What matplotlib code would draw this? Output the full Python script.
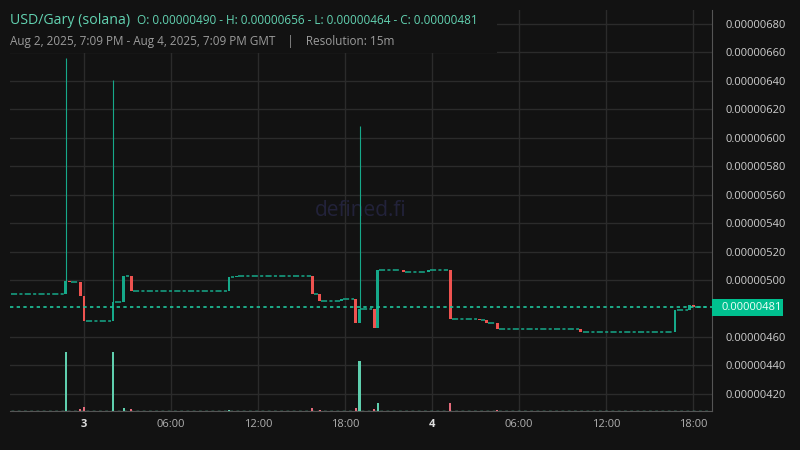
import matplotlib
matplotlib.use('Agg')
import matplotlib.pyplot as plt
from matplotlib.patches import Rectangle
from matplotlib.transforms import blended_transform_factory

plt.rcParams['font.family'] = ['Open Sans', 'DejaVu Sans']

# 15m candles, hours since Aug 3 2025 00:00 GMT (flat candles omitted, drawn as steps)
start_hour = -5.0
end_hour = 43.0
candle_hours = [-1.25, -1.0, -0.25, 0.0, 2.0, 2.75, 3.25, 10.0, 10.5, 15.75, 16.25, 17.75, 18.75,
                19.0, 20.0, 20.25, 22.0, 23.75, 25.25, 27.25, 27.75, 28.5, 34.25, 40.75, 41.75, 42.0]
opens = [490.0, 499.4, 498.6, 489.1, 471.5, 484.4, 503.0, 492.6, 502.0, 503.0, 490.0, 485.6, 486.5,
         470.1, 479.7, 466.6, 507.0, 505.9, 507.1, 473.0, 472.0, 470.1, 465.7, 463.6, 478.8, 482.5]
closes = [499.4, 498.6, 489.1, 471.5, 484.4, 503.0, 492.6, 502.0, 503.0, 490.0, 485.6, 486.5, 470.1,
          479.7, 466.6, 507.0, 505.9, 507.1, 473.0, 472.0, 470.1, 465.7, 463.6, 478.8, 482.5, 481.0]
# wick highs that stand out (index -> high), all in 1e-8 USD
spike_highs = {0: 656.0, 4: 640.6, 13: 608.3}
volumes = [590, 5, 20, 40, 590, 30, 20, 10, 3, 30, 15, 3, 30,
           500, 20, 80, 5, 5, 80, 5, 5, 10, 5, 5, 5, 5]

price_ticks = [420, 440, 460, 500, 520, 540, 560, 580, 600, 620, 640, 660, 680]
time_ticks = [0, 6, 12, 18, 24, 30, 36, 42]
time_labels = ['3', '06:00', '12:00', '18:00', '4', '06:00', '12:00', '18:00']

BG = '#121212'
GRID = '#2b2b2b'
UP = '#16a98a'
DOWN = '#ef5350'
VOL_UP = '#5fcfae'
VOL_DOWN = '#e46b7b'
TEAL_TXT = '#62d2b1'
SCALE = 1e-8

fig = plt.figure(figsize=(8, 4.5), dpi=100, facecolor=BG)
ax = fig.add_axes([10 / 800, 39 / 450, 702 / 800, 401 / 450])
ax.set_facecolor(BG)
ax.set_xlim(-5.1, 43.3)
ax.set_ylim(408 * SCALE, 689.8 * SCALE)

# grid
for p in price_ticks:
    ax.axhline(p * SCALE, color=GRID, lw=1, zorder=0)
for t in time_ticks:
    ax.axvline(t, color=GRID, lw=1, zorder=0)

# watermark
ax.text(0.5, 0.5, 'defined.fi', transform=ax.transAxes, ha='center', va='center',
        fontsize=15, color='#22223a', zorder=0.5)

# volume on its own scale at the bottom
axv = ax.twinx()
axv.set_ylim(0, 4010)
axv.axis('off')
vol_colors = [VOL_UP if c >= o else VOL_DOWN for o, c in zip(opens, closes)]
axv.bar(candle_hours, volumes, width=0.15, color=vol_colors, zorder=2)
axv.hlines(5, start_hour, end_hour, color=VOL_UP, lw=1, linestyles=(0, (2, 2.5)), zorder=1)

# flat stretches between moving candles
flat_style = (0, (4, 1.5, 2, 1.5))
ax.hlines(opens[0] * SCALE, start_hour, candle_hours[0] - 0.125, color=UP, lw=1.1, linestyles=flat_style, zorder=3)
for i in range(len(candle_hours) - 1):
    ax.hlines(closes[i] * SCALE, candle_hours[i] + 0.125, candle_hours[i + 1] - 0.125,
              color=UP, lw=1.1, linestyles=flat_style, zorder=3)
ax.hlines(closes[-1] * SCALE, candle_hours[-1] + 0.125, end_hour, color=UP, lw=1.1, linestyles=flat_style, zorder=3)

# candles
for i, (t, o, c) in enumerate(zip(candle_hours, opens, closes)):
    col = UP if c >= o else DOWN
    h = max(abs(c - o), 0.8)
    ax.bar(t, h * SCALE, bottom=min(o, c) * SCALE, width=0.2, color=col, zorder=4)
    if i in spike_highs:
        ax.vlines(t, max(o, c) * SCALE, spike_highs[i] * SCALE, color=col, lw=0.8, zorder=4)

# last price line
last = closes[-1] * SCALE
ax.axhline(last, color='#1fc49c', lw=1.2, linestyle=(0, (2, 2)), zorder=5)

# axes styling
for s in ['left', 'top']:
    ax.spines[s].set_visible(False)
ax.spines['right'].set_color('#555555')
ax.spines['bottom'].set_color('#555555')
ax.yaxis.tick_right()
ax.set_yticks([p * SCALE for p in price_ticks])
ax.set_yticklabels([f'{p * SCALE:.8f}' for p in price_ticks])
ax.set_xticks(time_ticks)
ax.set_xticklabels(time_labels)
ax.tick_params(axis='y', length=0, pad=10, labelsize=8, labelcolor='#cfcfcf')
ax.tick_params(axis='x', length=0, pad=6, labelsize=8, labelcolor='#b0b0b0')
for lbl in ax.get_xticklabels():
    if lbl.get_text() in ('3', '4'):
        lbl.set_fontweight('bold')
        lbl.set_color('#e0e0e0')

# last price tag
tr = blended_transform_factory(ax.transAxes, ax.transData)
ax.add_patch(Rectangle((1.0, last - 6 * SCALE), 71 / 702, 12 * SCALE, transform=tr,
                       facecolor='#00c08f', edgecolor='none', clip_on=False, zorder=6))
ax.text(1 + 10 / 702, last, f'{last:.8f}', transform=tr, ha='left', va='center',
        fontsize=8, color='#f0fff9', zorder=7, clip_on=False)

# header box
fig.patches.append(Rectangle((0, 1 - 53 / 450), 497 / 800, 53 / 450, transform=fig.transFigure,
                             facecolor=BG, edgecolor='none', zorder=2))
fig.text(10 / 800, 1 - 20 / 450, 'USD/Gary (solana)', fontsize=10.2, color=TEAL_TXT, va='center', zorder=3)
hi = max(spike_highs.values())
lo = min(opens + closes)
fig.text(137 / 800, 1 - 20 / 450,
         f'O: {opens[0] * SCALE:.8f} - H: {hi * SCALE:.8f} - L: {lo * SCALE:.8f} - C: {last:.8f}',
         fontsize=8.5, color=TEAL_TXT, va='center', zorder=3)
fig.text(10 / 800, 1 - 41 / 450,
         'Aug 2, 2025, 7:09 PM - Aug 4, 2025, 7:09 PM GMT    |    Resolution: 15m',
         fontsize=8.5, color='#9c9c9c', va='center', zorder=3)

fig.savefig('out.png', dpi=100, facecolor=BG)
